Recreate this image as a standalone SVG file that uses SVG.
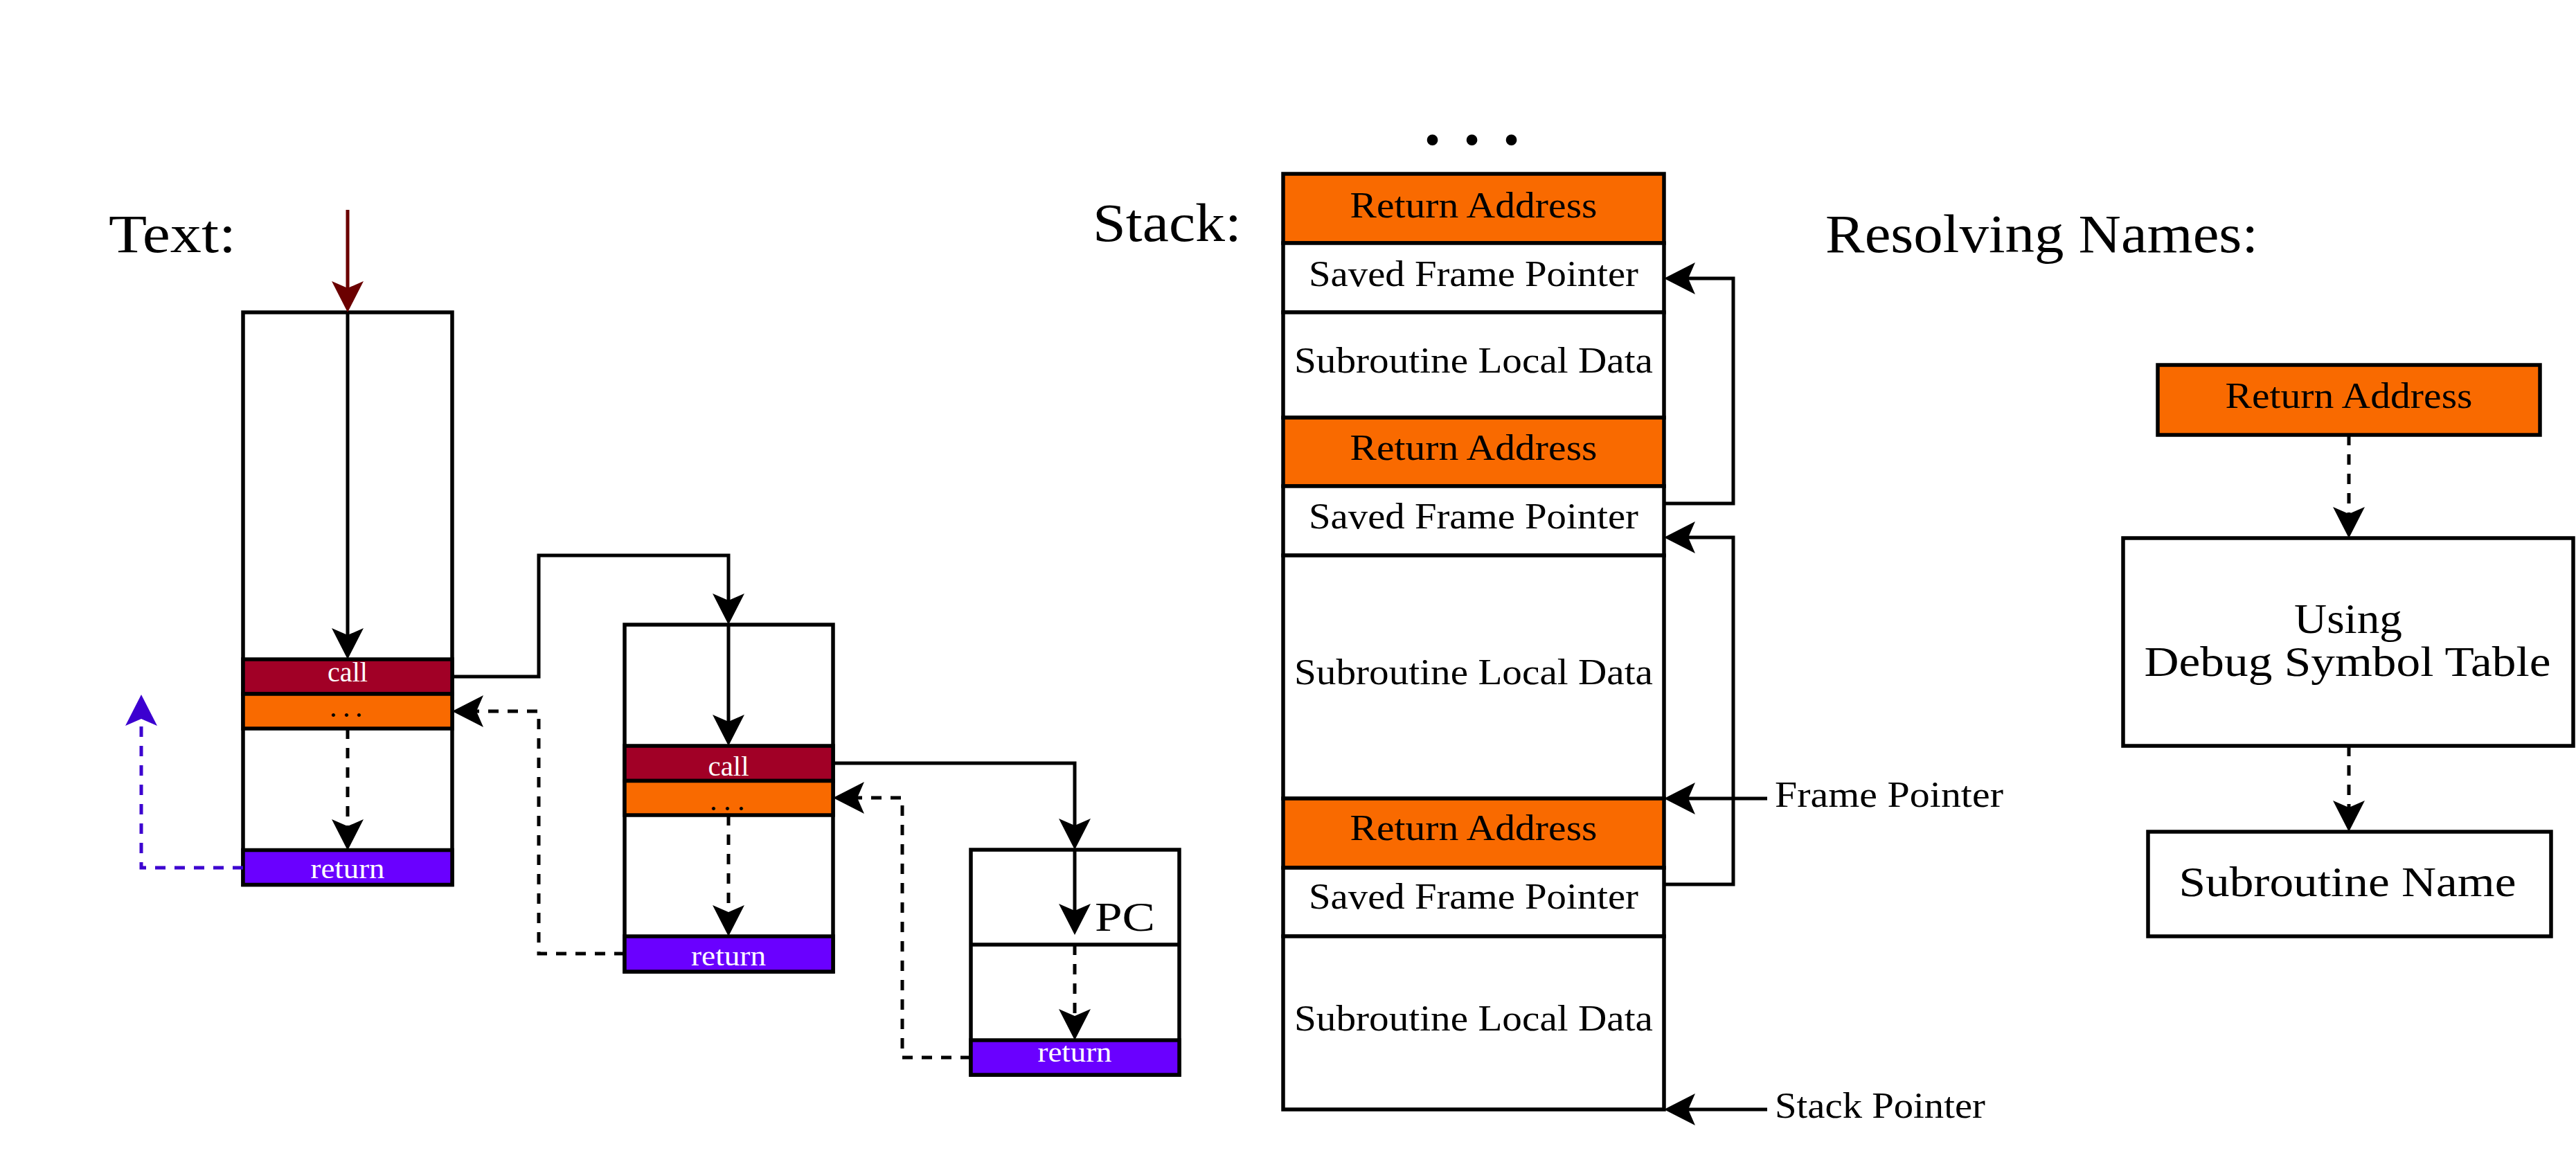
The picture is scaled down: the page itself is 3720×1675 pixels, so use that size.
<svg xmlns="http://www.w3.org/2000/svg" width="3720" height="1675" viewBox="0 0 3720 1675">
<style>
text{font-family:"Liberation Serif","DejaVu Serif",serif;fill:#000}
.big{font-size:78px}
.st{font-size:52px;text-anchor:middle}
.lab{font-size:52px}
.res{font-size:62px;text-anchor:middle}
.sm{font-size:39px;text-anchor:middle;fill:#fff}
.dots{font-size:42px}
.box{fill:#fff;stroke:#000;stroke-width:5.5}
.call{fill:#a10026;stroke:#000;stroke-width:5.5}
.or{fill:#f96a00;stroke:#000;stroke-width:5.5}
.ret{fill:#6a00ff;stroke:#000;stroke-width:5.5}
.ln{fill:none;stroke:#000;stroke-width:5}
.dash{stroke-dasharray:15 13}
</style>
<defs>
<marker id="ah" markerUnits="userSpaceOnUse" viewBox="-48 -25 50 50" markerWidth="50" markerHeight="50" refX="-30" refY="0" orient="auto"><path d="M0,0 L-45,-23 L-35,0 L-45,23 Z" fill="#000"/></marker>
<marker id="ahr" markerUnits="userSpaceOnUse" viewBox="-48 -25 50 50" markerWidth="50" markerHeight="50" refX="-30" refY="0" orient="auto"><path d="M0,0 L-45,-23 L-35,0 L-45,23 Z" fill="#6b0000"/></marker>
<marker id="ahb" markerUnits="userSpaceOnUse" viewBox="-48 -25 50 50" markerWidth="50" markerHeight="50" refX="-30" refY="0" orient="auto"><path d="M0,0 L-45,-23 L-35,0 L-45,23 Z" fill="#3c00d0"/></marker>
</defs>
<rect width="3720" height="1675" fill="#fff"/>

<g id="titles">
<text class="big" x="157" y="364" textLength="184" lengthAdjust="spacingAndGlyphs">Text:</text>
<text class="big" x="1578" y="348" textLength="215" lengthAdjust="spacingAndGlyphs">Stack:</text>
<text class="big" x="2636" y="364" textLength="625" lengthAdjust="spacingAndGlyphs">Resolving Names:</text>
</g>

<g id="text-box1">
<rect class="box" x="351" y="451" width="302" height="826.5"/>
<rect class="call" x="351" y="952" width="302" height="50"/>
<rect class="or" x="351" y="1002" width="302" height="50"/>
<rect class="ret" x="351" y="1227.5" width="302" height="50"/>
<text class="sm" x="502" y="984" textLength="58" lengthAdjust="spacingAndGlyphs">call</text>
<text class="dots" x="476 495 513" y="1035">...</text>
<text class="sm" x="502" y="1268" textLength="107" lengthAdjust="spacingAndGlyphs">return</text>
</g>

<g id="text-box2">
<rect class="box" x="902" y="902" width="301" height="501"/>
<rect class="call" x="902" y="1077" width="301" height="50.5"/>
<rect class="or" x="902" y="1127.5" width="301" height="49.5"/>
<rect class="ret" x="902" y="1352" width="301" height="51"/>
<text class="sm" x="1052" y="1120" textLength="59" lengthAdjust="spacingAndGlyphs">call</text>
<text class="dots" x="1025 1045 1065" y="1170">...</text>
<text class="sm" x="1052" y="1394" textLength="108" lengthAdjust="spacingAndGlyphs">return</text>
</g>

<g id="text-box3">
<rect class="box" x="1402" y="1227" width="301" height="325"/>
<line x1="1402" y1="1364" x2="1703" y2="1364" stroke="#000" stroke-width="5.5"/>
<rect class="ret" x="1402" y="1502" width="301" height="50"/>
<text class="sm" x="1552" y="1533" textLength="107" lengthAdjust="spacingAndGlyphs">return</text>
<text x="1581" y="1344" font-size="60" textLength="87" lengthAdjust="spacingAndGlyphs">PC</text>
</g>

<g id="stack">
<text font-size="66" x="2057 2114 2171" y="224">•••</text>
<rect class="or" x="1853" y="251" width="550" height="100"/>
<rect class="box" x="1853" y="351" width="550" height="100"/>
<rect class="box" x="1853" y="451" width="550" height="152"/>
<rect class="or" x="1853" y="603" width="550" height="99"/>
<rect class="box" x="1853" y="702" width="550" height="100"/>
<rect class="box" x="1853" y="802" width="550" height="351"/>
<rect class="or" x="1853" y="1153" width="550" height="100"/>
<rect class="box" x="1853" y="1253" width="550" height="99"/>
<rect class="box" x="1853" y="1352" width="550" height="250"/>
<text class="st" x="2128" y="314" textLength="357" lengthAdjust="spacingAndGlyphs">Return Address</text>
<text class="st" x="2128" y="413" textLength="476" lengthAdjust="spacingAndGlyphs">Saved Frame Pointer</text>
<text class="st" x="2128" y="538" textLength="518" lengthAdjust="spacingAndGlyphs">Subroutine Local Data</text>
<text class="st" x="2128" y="664" textLength="357" lengthAdjust="spacingAndGlyphs">Return Address</text>
<text class="st" x="2128" y="763" textLength="476" lengthAdjust="spacingAndGlyphs">Saved Frame Pointer</text>
<text class="st" x="2128" y="988" textLength="518" lengthAdjust="spacingAndGlyphs">Subroutine Local Data</text>
<text class="st" x="2128" y="1213" textLength="357" lengthAdjust="spacingAndGlyphs">Return Address</text>
<text class="st" x="2128" y="1312" textLength="476" lengthAdjust="spacingAndGlyphs">Saved Frame Pointer</text>
<text class="st" x="2128" y="1488" textLength="518" lengthAdjust="spacingAndGlyphs">Subroutine Local Data</text>
<text class="lab" x="2563" y="1165" textLength="330" lengthAdjust="spacingAndGlyphs">Frame Pointer</text>
<text class="lab" x="2563" y="1614" textLength="304" lengthAdjust="spacingAndGlyphs">Stack Pointer</text>
</g>

<g id="res-return-address">
<rect class="or" x="3116" y="527" width="552" height="101"/>
<text class="st" x="3392" y="589" textLength="357" lengthAdjust="spacingAndGlyphs">Return Address</text>
</g>
<g id="res-debug-table">
<rect class="box" x="3066" y="777" width="650" height="300"/>
<text class="res" x="3391" y="914" textLength="156" lengthAdjust="spacingAndGlyphs">Using</text>
<text class="res" x="3390" y="976" textLength="587" lengthAdjust="spacingAndGlyphs">Debug Symbol Table</text>
</g>
<g id="res-subroutine-name">
<rect class="box" x="3102" y="1201" width="582" height="151"/>
<text class="res" x="3390" y="1294" textLength="487" lengthAdjust="spacingAndGlyphs">Subroutine Name</text>
</g>

<g id="connectors">
<path d="M502,303 V421" fill="none" stroke="#6b0000" stroke-width="5" marker-end="url(#ahr)"/>
<path class="ln" d="M502,451 V922" marker-end="url(#ah)"/>
<path class="ln dash" d="M502,1052 V1198" marker-end="url(#ah)"/>
<path d="M351,1253 H204 V1033" fill="none" stroke="#3c00d0" stroke-width="5" stroke-dasharray="15 13" marker-end="url(#ahb)"/>
<path class="ln" d="M653,977 H778 V802 H1052 V872" marker-end="url(#ah)"/>
<path class="ln" d="M1052,902 V1047" marker-end="url(#ah)"/>
<path class="ln dash" d="M1052,1177 V1322" marker-end="url(#ah)"/>
<path class="ln dash" d="M902,1377 H778 V1027 H683" marker-end="url(#ah)"/>
<path class="ln" d="M1203,1102 H1552 V1197" marker-end="url(#ah)"/>
<path class="ln" d="M1552,1227 V1320" marker-end="url(#ah)"/>
<path class="ln dash" d="M1552,1364 V1472" marker-end="url(#ah)"/>
<path class="ln dash" d="M1402,1527 H1303 V1152 H1233" marker-end="url(#ah)"/>
<path class="ln" d="M2403,727 H2503 V402 H2433" marker-end="url(#ah)"/>
<path class="ln" d="M2403,1277 H2503 V776 H2433" marker-end="url(#ah)"/>
<path class="ln" d="M2552,1153 H2433" marker-end="url(#ah)"/>
<path class="ln" d="M2552,1602 H2433" marker-end="url(#ah)"/>
<path class="ln dash" d="M3392,628 V747" marker-end="url(#ah)"/>
<path class="ln dash" d="M3392,1077 V1171" marker-end="url(#ah)"/>
</g>
</svg>
